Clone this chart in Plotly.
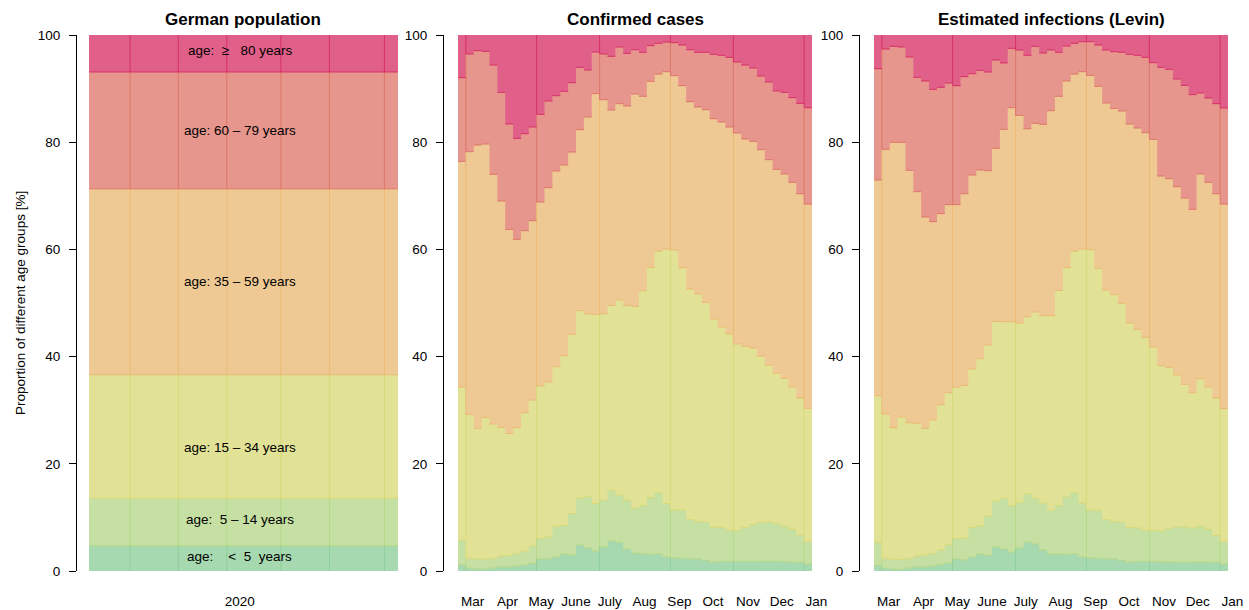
import plotly.graph_objects as go
from datetime import date, timedelta

W, H = 1249, 610

# ---------------- data ----------------
age_labels = ["age:\u00a0\u00a0\u00a0\u00a0<\u00a0\u00a05\u00a0\u00a0years",
              "age:\u00a0\u00a05 – 14 years",
              "age: 15 – 34 years",
              "age: 35 – 59 years",
              "age: 60 – 79 years",
              "age:\u00a0\u00a0≥\u00a0\u00a0\u00a080 years"]
age_label_y = [2.76, 9.66, 23.1, 54.1, 82.2, 97.1]

fill_colors = ["#A7D9B0", "#C6E0A3", "#E2E296", "#EFC994", "#E6968C", "#E0608A"]
line_colors = ["#8DCE98", "#B5D787", "#D9D977", "#EAB974", "#DE7669", "#D73067"]

# German population 2020: cumulative upper bounds of the age groups [%]
pop_cum = [4.7, 13.6, 36.6, 71.3, 93.1, 100.0]
pop_vlines = [0.133, 0.289, 0.446, 0.621, 0.778, 0.956]

first_week = date(2020, 2, 17)
n_weeks = 45
vline_weeks = [1, 10, 18, 27, 35, 44]

# Confirmed cases: cumulative shares (upper bound of each age group) per week [%]
conf_lt5 = [1.12, 0.56, 0.37, 0.37, 0.56, 0.75, 0.75, 0.93, 1.12, 1.43, 2.24, 2.24, 2.61, 3.17, 2.99,
            4.85, 4.29, 3.73, 4.48, 5.60, 5.35, 4.10, 3.36, 3.23, 3.11, 3.17, 2.61, 2.43, 2.36, 2.24,
            2.24, 1.99, 1.68, 1.80, 1.80, 1.80, 1.80, 1.80, 1.80, 1.87, 1.80, 1.74, 1.68, 1.62, 1.31]
conf_lt15 = [5.72, 2.36, 2.24, 2.24, 2.36, 2.80, 2.92, 3.30, 3.73, 4.66, 6.09, 6.34, 8.33, 8.52, 10.76,
             13.62, 13.87, 12.62, 13.25, 15.05, 14.18, 13.25, 11.75, 12.25, 13.74, 14.68, 12.62, 11.38, 11.38, 9.64,
             9.27, 9.14, 8.21, 8.15, 7.65, 7.59, 8.15, 8.71, 9.08, 9.14, 8.89, 8.33, 7.77, 6.72, 5.47]
conf_lt35 = [34.33, 29.23, 26.62, 28.67, 27.43, 26.80, 25.68, 26.74, 29.54, 31.90, 34.51, 35.26, 38.12, 40.17, 44.15,
             48.57, 47.95, 47.89, 48.01, 49.56, 50.56, 49.56, 49.38, 52.30, 56.65, 59.70, 60.07, 59.89, 56.59, 52.61,
             51.68, 50.12, 47.01, 45.52, 44.22, 42.35, 41.92, 41.60, 40.11, 38.43, 36.94, 35.95, 34.33, 32.28, 30.35]
conf_lt60 = [76.43, 78.23, 79.48, 79.66, 74.00, 69.03, 63.74, 61.88, 63.50, 65.36, 68.84, 71.52, 74.63, 75.75, 78.17,
             82.34, 84.70, 89.05, 87.93, 86.01, 87.19, 86.75, 88.99, 88.56, 91.36, 92.72, 93.16, 92.41, 90.55, 87.56,
             86.57, 86.07, 84.39, 83.77, 82.84, 81.72, 80.60, 80.16, 78.61, 76.74, 74.94, 74.07, 72.51, 70.40, 68.47]
conf_lt80 = [92.04, 96.46, 97.08, 96.95, 94.40, 89.30, 83.40, 80.72, 81.59, 82.84, 85.20, 87.69, 88.68, 89.49, 91.11,
             93.97, 93.47, 96.83, 96.46, 96.02, 97.76, 96.58, 97.26, 96.77, 98.01, 98.45, 98.69, 98.57, 98.13, 97.26,
             96.77, 96.77, 96.39, 96.21, 95.83, 94.96, 94.40, 93.84, 92.35, 91.23, 89.55, 89.30, 88.31, 87.25, 86.44]

# Estimated infections (Levin): cumulative shares per week [%]
est_lt5 = [1.06, 0.56, 0.31, 0.31, 0.56, 0.75, 0.75, 0.93, 1.24, 1.49, 2.24, 2.05, 2.61, 3.17, 2.92,
           4.48, 4.10, 3.54, 4.29, 5.41, 5.04, 3.92, 3.17, 3.17, 3.11, 3.17, 2.61, 2.43, 2.36, 2.24,
           2.24, 1.99, 1.68, 1.80, 1.80, 1.80, 1.68, 1.68, 1.68, 1.62, 1.68, 1.68, 1.68, 1.62, 1.31]
est_lt15 = [5.35, 2.36, 2.18, 2.18, 2.36, 2.80, 2.99, 3.30, 3.92, 4.85, 6.09, 6.16, 8.15, 8.40, 10.26,
            13.06, 13.56, 12.25, 12.81, 14.37, 13.56, 12.69, 11.32, 12.25, 13.81, 14.68, 12.69, 11.38, 11.32, 9.64,
            9.27, 9.14, 8.15, 8.02, 7.65, 7.59, 7.46, 7.96, 8.27, 8.27, 8.02, 8.33, 7.77, 6.65, 5.53]
est_lt35 = [32.71, 29.29, 26.74, 28.73, 27.67, 27.55, 26.62, 28.17, 31.03, 33.27, 34.27, 34.64, 37.69, 39.61, 42.16,
            46.58, 46.52, 46.52, 46.27, 47.45, 48.32, 47.64, 47.64, 52.33, 56.59, 59.70, 60.07, 59.95, 56.47, 52.43,
            51.55, 49.94, 46.27, 45.09, 43.59, 41.79, 38.31, 38.00, 36.57, 34.83, 33.27, 35.88, 34.33, 32.28, 30.29]
est_lt60 = [72.95, 78.67, 79.97, 79.97, 74.75, 70.77, 66.04, 65.17, 66.67, 68.35, 68.35, 70.40, 73.88, 74.81, 74.69,
            78.86, 82.40, 86.44, 85.01, 82.52, 83.52, 83.33, 85.88, 88.56, 91.42, 92.72, 93.16, 92.47, 90.42, 87.31,
            86.32, 85.82, 83.40, 82.65, 81.78, 80.53, 73.69, 73.20, 71.70, 69.59, 67.48, 74.07, 72.51, 70.40, 68.47]
est_lt80 = [93.72, 97.39, 97.89, 97.76, 95.90, 92.10, 91.42, 89.86, 90.24, 91.04, 90.55, 92.23, 92.79, 93.41, 93.10,
            95.34, 94.78, 97.51, 97.20, 96.21, 97.89, 96.64, 97.20, 96.77, 97.95, 98.45, 98.76, 98.76, 98.13, 97.20,
            96.89, 96.77, 96.39, 96.21, 95.83, 94.84, 93.97, 93.60, 91.79, 90.61, 88.87, 89.18, 88.25, 87.19, 86.38]

month_ticks = ["2020-03-01", "2020-04-01", "2020-05-01", "2020-06-01", "2020-07-01", "2020-08-01",
               "2020-09-01", "2020-10-01", "2020-11-01", "2020-12-01", "2021-01-01"]
month_text = ["Mar", "Apr", "May", "June", "July", "Aug", "Sep", "Oct", "Nov", "Dec", "Jan"]

titles = ["German population", "Confirmed cases", "Estimated infections (Levin)"]

# ---------------- figure ----------------
fig = go.Figure()
FONT = "Liberation Sans, Arial, Helvetica, sans-serif"


def add_panel(xa, ya, edges, cum):
    n = len(edges) - 1
    top = [100.0] * n
    bands = cum + [top]
    for b in reversed(range(len(bands))):
        vals = bands[b]
        fig.add_trace(go.Scatter(x=edges, y=list(vals) + [vals[-1]], mode="lines",
                                 line=dict(width=0, shape="hv"), fill="tozeroy",
                                 fillcolor=fill_colors[b], xaxis=xa, yaxis=ya,
                                 hoverinfo="skip", showlegend=False))
    return bands


def add_edges(xa, ya, edges, bands):
    n = len(edges) - 1
    for b in range(len(bands) - 1):
        xs, ys = [], []
        for k in range(n):
            xs += [edges[k], edges[k + 1], None]
            ys += [bands[b][k], bands[b][k], None]
        fig.add_trace(go.Scatter(x=xs, y=ys, mode="lines",
                                 line=dict(width=1, color=line_colors[b + 1]),
                                 xaxis=xa, yaxis=ya, hoverinfo="skip", showlegend=False))


def add_vlines(xa, ya, positions, idxs, bands):
    for b in range(len(bands)):
        xs, ys = [], []
        for p, j in zip(positions, idxs):
            lo = 0.0 if b == 0 else bands[b - 1][j]
            xs += [p, p, None]
            ys += [lo, bands[b][j], None]
        fig.add_trace(go.Scatter(x=xs, y=ys, mode="lines",
                                 line=dict(width=1, color=line_colors[b]),
                                 xaxis=xa, yaxis=ya, hoverinfo="skip", showlegend=False))


# Panel 1: population
pop_edges = [0.0, 1.0]
pop_bands = add_panel("x", "y", pop_edges, [[v] for v in pop_cum[:-1]])
add_vlines("x", "y", pop_vlines, [0] * len(pop_vlines), pop_bands)
add_edges("x", "y", pop_edges, pop_bands)

week_edges = [(first_week + timedelta(days=7 * k)).isoformat() for k in range(n_weeks + 1)]
vline_dates = [week_edges[j] for j in vline_weeks]

conf_bands = add_panel("x2", "y2", week_edges, [conf_lt5, conf_lt15, conf_lt35, conf_lt60, conf_lt80])
add_vlines("x2", "y2", vline_dates, vline_weeks, conf_bands)
add_edges("x2", "y2", week_edges, conf_bands)

est_bands = add_panel("x3", "y3", week_edges, [est_lt5, est_lt15, est_lt35, est_lt60, est_lt80])
add_vlines("x3", "y3", vline_dates, vline_weeks, est_bands)
add_edges("x3", "y3", week_edges, est_bands)

# ---------------- layout ----------------
ydom = [1 - 571 / H, 1 - 35 / H]
px_per_day = 354 / 315
date_end = "2021-01-03"
span_px = 321 * px_per_day

tickfont = dict(family=FONT, size=13.5, color="#000000")

yax_common = dict(range=[0, 100], domain=ydom, anchor="free", showline=True, linecolor="#000000",
                  linewidth=1, ticks="outside", ticklen=7, tickwidth=1, tickcolor="#000000",
                  tickvals=[0, 20, 40, 60, 80, 100], showgrid=False, zeroline=False,
                  tickfont=tickfont, ticklabelstandoff=6, fixedrange=True, automargin=False)
xax_common = dict(showgrid=False, zeroline=False, showline=False, ticks="", tickfont=tickfont,
                  ticklabelstandoff=20, fixedrange=True, automargin=False)

fig.update_layout(
    width=W, height=H,
    margin=dict(l=0, r=0, t=0, b=0, pad=0, autoexpand=False),
    paper_bgcolor="white", plot_bgcolor="white",
    font=dict(family=FONT, color="#000000"),
    xaxis=dict(xax_common, domain=[89 / W, 398 / W], range=[0, 1], tickvals=[0.488], ticktext=["2020"],
               anchor="y"),
    xaxis2=dict(xax_common, type="date", domain=[458 / W, (458 + span_px) / W],
                range=[week_edges[0], date_end], tickvals=month_ticks, ticktext=month_text, anchor="y2"),
    xaxis3=dict(xax_common, type="date", domain=[874 / W, (874 + span_px) / W],
                range=[week_edges[0], date_end], tickvals=month_ticks, ticktext=month_text, anchor="y3"),
    yaxis=dict(yax_common, position=76 / W),
    yaxis2=dict(yax_common, position=443 / W),
    yaxis3=dict(yax_common, position=859 / W),
)

annotations = []
for t, cx in zip(titles, [243, 635, 1051]):
    annotations.append(dict(text="<b>" + t + "</b>", x=cx / W, y=1 - 19 / H, xref="paper", yref="paper",
                            showarrow=False, xanchor="center", yanchor="middle",
                            font=dict(family=FONT, size=17, color="#000000")))
annotations.append(dict(text="Proportion of different age groups [%]", x=20 / W, y=1 - 303 / H,
                        xref="paper", yref="paper", showarrow=False, textangle=-90,
                        xanchor="center", yanchor="middle", font=dict(family=FONT, size=13.5, color="#000000")))
for lab, yv in zip(age_labels, age_label_y):
    annotations.append(dict(text=lab, x=0.488, y=yv, xref="x", yref="y", showarrow=False,
                            xanchor="center", yanchor="middle", font=dict(family=FONT, size=13.5, color="#000000")))
fig.update_layout(annotations=annotations)

fig.write_html("out.html", config={"displayModeBar": False},
               post_script="document.body.style.margin='0px';document.body.style.overflow='hidden';")
